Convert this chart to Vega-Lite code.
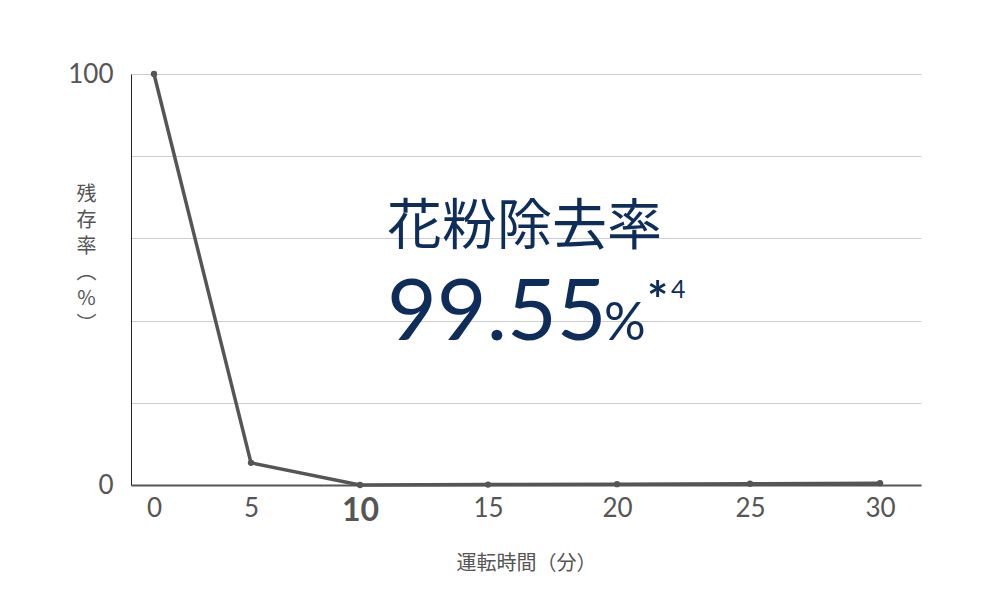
{
  "$schema": "https://vega.github.io/schema/vega-lite/v6.json",
  "width": 790,
  "height": 411,
  "autosize": "none",
  "padding": {"left": 131, "top": 74, "right": 64, "bottom": 115},
  "background": "white",
  "config": {
    "font": "Lato, Noto Sans CJK JP",
    "view": {"stroke": null}
  },
  "datasets": {
    "residual": [
      {"minutes": 0, "rate": 100},
      {"minutes": 5, "rate": 5.4},
      {"minutes": 10, "rate": 0},
      {"minutes": 15, "rate": 0.1},
      {"minutes": 20, "rate": 0.2},
      {"minutes": 25, "rate": 0.3},
      {"minutes": 30, "rate": 0.45}
    ],
    "notes": [
      {"title": "花粉除去率", "value": "99.55", "unit": "%", "star": "*", "ref": "4"}
    ]
  },
  "layer": [
    {
      "data": {"name": "residual"},
      "mark": {"type": "line", "color": "#555555", "strokeWidth": 3.5},
      "encoding": {
        "x": {
          "field": "minutes",
          "type": "quantitative",
          "scale": {
            "domain": [-1.19, 0, 5, 10, 15, 20, 25, 30, 31.58],
            "range": [0, 23, 120, 229, 357, 486, 619, 749, 790],
            "nice": false,
            "zero": false
          },
          "axis": {
            "values": [0, 5, 10, 15, 20, 25, 30],
            "title": "運転時間（分）",
            "titleFont": "Noto Sans CJK JP",
            "titleFontSize": 20,
            "titleFontWeight": "normal",
            "titleColor": "#555555",
            "titlePadding": 27,
            "grid": false,
            "ticks": false,
            "domainColor": "#555555",
            "domainWidth": 2,
            "labelColor": "#555555",
            "labelPadding": 10,
            "labelFontSize": {"condition": {"test": "datum.value == 10", "value": 32}, "value": 26},
            "labelFontWeight": {"condition": {"test": "datum.value == 10", "value": "bold"}, "value": "normal"}
          }
        },
        "y": {
          "field": "rate",
          "type": "quantitative",
          "scale": {"domain": [0, 100], "nice": false},
          "axis": {
            "values": [0, 20, 40, 60, 80, 100],
            "labelExpr": "datum.value == 0 || datum.value == 100 ? datum.label : ''",
            "title": ["残", "存", "率", "︵", "%", "︶"],
            "titleFont": "Noto Sans CJK JP",
            "titleFontSize": 20,
            "titleFontWeight": "normal",
            "titleColor": "#555555",
            "titleAngle": 0,
            "titleAlign": "center",
            "titleBaseline": "top",
            "titleLineHeight": 26,
            "titleX": -45,
            "titleY": 110,
            "ticks": false,
            "domainColor": "#222222",
            "domainWidth": 1,
            "gridColor": "#cccccc",
            "gridWidth": 1,
            "labelColor": "#555555",
            "labelFontSize": 26,
            "labelPadding": 18
          }
        }
      }
    },
    {
      "data": {"name": "residual"},
      "mark": {"type": "point", "filled": true, "color": "#555555", "opacity": 1, "size": 40},
      "encoding": {
        "x": {"field": "minutes", "type": "quantitative"},
        "y": {"field": "rate", "type": "quantitative"}
      }
    },
    {
      "data": {"name": "notes"},
      "mark": {"type": "text", "align": "left", "baseline": "alphabetic", "font": "Noto Sans CJK JP", "fontSize": 55, "color": "#0e2d5b"},
      "encoding": {
        "x": {"datum": 11.05, "type": "quantitative"},
        "y": {"datum": 58.6, "type": "quantitative"},
        "text": {"field": "title"}
      }
    },
    {
      "data": {"name": "notes"},
      "mark": {"type": "text", "align": "left", "baseline": "alphabetic", "fontSize": 86, "color": "#0e2d5b"},
      "encoding": {
        "x": {"datum": 11.05, "type": "quantitative"},
        "y": {"datum": 35.3, "type": "quantitative"},
        "text": {"field": "value"}
      }
    },
    {
      "data": {"name": "notes"},
      "mark": {"type": "text", "align": "left", "baseline": "alphabetic", "fontSize": 52, "color": "#0e2d5b", "dx": 217},
      "encoding": {
        "x": {"datum": 11.05, "type": "quantitative"},
        "y": {"datum": 35.3, "type": "quantitative"},
        "text": {"field": "unit"}
      }
    },
    {
      "data": {"name": "notes"},
      "mark": {"type": "text", "align": "left", "baseline": "alphabetic", "fontSize": 50, "fontWeight": "bold", "color": "#0e2d5b", "dx": 260, "dy": -22},
      "encoding": {
        "x": {"datum": 11.05, "type": "quantitative"},
        "y": {"datum": 35.3, "type": "quantitative"},
        "text": {"field": "star"}
      }
    },
    {
      "data": {"name": "notes"},
      "mark": {"type": "text", "align": "left", "baseline": "alphabetic", "fontSize": 25, "color": "#0e2d5b", "dx": 284, "dy": -42},
      "encoding": {
        "x": {"datum": 11.05, "type": "quantitative"},
        "y": {"datum": 35.3, "type": "quantitative"},
        "text": {"field": "ref"}
      }
    }
  ]
}
